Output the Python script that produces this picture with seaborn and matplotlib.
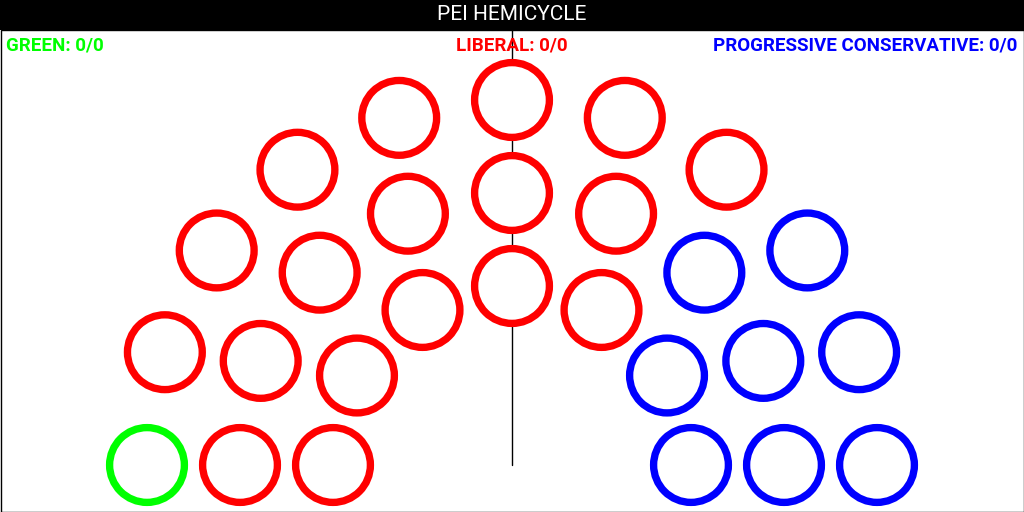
import numpy as np
import pandas as pd
import matplotlib
matplotlib.use("Agg")
import matplotlib.pyplot as plt
import seaborn as sns

# parties, seat counts and colours (left to right round the hemicycle)
parties = ["GREEN", "LIBERAL", "PROGRESSIVE CONSERVATIVE"]
seats = [1, 18, 8]
elected = [0, 0, 0]
colors = ["#00ff00", "#ff0000", "#0000ff"]

# seats per ring, inner to outer
ring_seats = [7, 9, 11]

title = "PEI HEMICYCLE"

sns.set_theme(style="white")
plt.rcParams["font.family"] = ["DejaVu Sans"]

# seat layout in pixel space
cx, cy = 512, 465
ring_radius = [179, 272, 365]
rows = []
for ring, (n, r) in enumerate(zip(ring_seats, ring_radius)):
    for a in np.linspace(180, 0, n):
        rows.append({"ring": ring, "angle": a,
                     "x": cx + r * np.cos(np.radians(a)),
                     "y": cy - r * np.sin(np.radians(a))})
df = pd.DataFrame(rows).sort_values(["angle", "ring"], ascending=[False, False]).reset_index(drop=True)
df["party"] = np.repeat(parties, seats)

fig = plt.figure(figsize=(10.24, 5.12), dpi=100)
ax = fig.add_axes([0, 0, 1, 1])
ax.set_xlim(0, 1024)
ax.set_ylim(512, 0)
ax.axis("off")

# frame and title bar
ax.add_patch(plt.Rectangle((0.5, 30), 1023, 481.5, facecolor="white", edgecolor="black", lw=1, zorder=0))
ax.add_patch(plt.Rectangle((0, 0), 1024, 30, facecolor="black", edgecolor="none", zorder=1))
ax.text(512, 15, title, color="white", ha="center", va="center", fontsize=15,
        family=["Roboto", "DejaVu Sans"], zorder=2)

# centre line
ax.plot([512, 512], [30, 465], color="black", lw=1, zorder=1)

sns.scatterplot(data=df, x="x", y="y", hue="party", palette=dict(zip(parties, colors)),
                s=2900, marker="o", linewidth=5.3, legend=False, ax=ax, zorder=3)
coll = ax.collections[-1]
coll.set_edgecolor(coll.get_facecolor())
coll.set_facecolor("white")

lab_font = dict(fontsize=13.5, fontweight="bold", family=["Roboto", "DejaVu Sans"], va="baseline", zorder=4)
ax.text(6, 50, f"{parties[0]}: {elected[0]}/0", color=colors[0], ha="left", **lab_font)
ax.text(512, 50, f"{parties[1]}: {elected[1]}/0", color=colors[1], ha="center", **lab_font)
ax.text(1017, 50, f"{parties[2]}: {elected[2]}/0", color=colors[2], ha="right", **lab_font)

ax.set_xlabel("")
ax.set_ylabel("")
fig.savefig("out.png", dpi=100)
